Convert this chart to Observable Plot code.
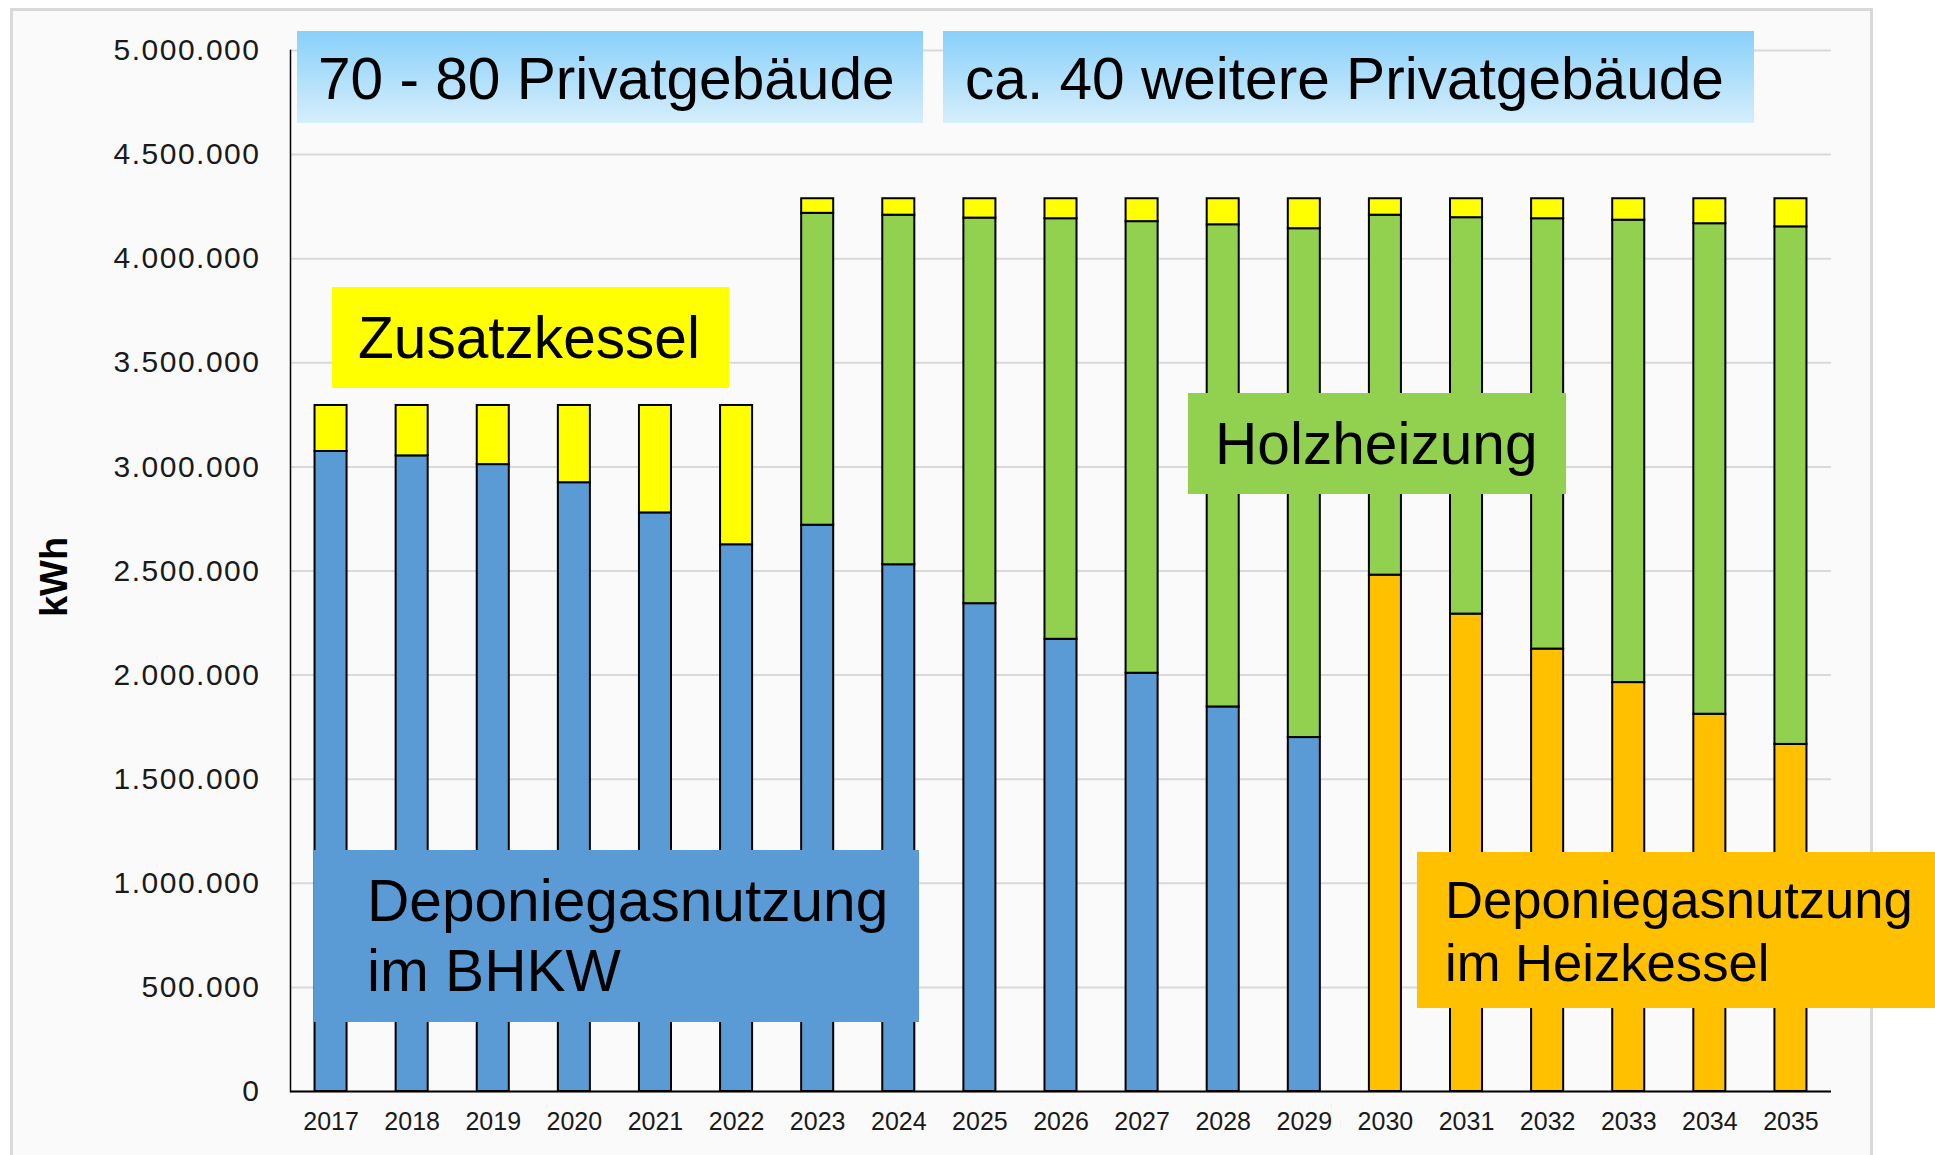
<!DOCTYPE html>
<html>
<head>
<meta charset="utf-8">
<script src="https://cdn.jsdelivr.net/npm/d3@7"></script>
<script src="https://cdn.jsdelivr.net/npm/@observablehq/plot@0.6"></script>
<style>
html, body { margin: 0; padding: 0; background: #fff; }
#wrap { position: relative; width: 1935px; height: 1155px; overflow: hidden; font-family: "Liberation Sans", Arial, sans-serif; }
#frame { position: absolute; left: 10px; top: 8px; width: 1863px; height: 1200px; border: 3px solid #d9d9d9; background: #fafafa; box-sizing: border-box; }
#chart { position: absolute; left: 0; top: 0; }
.box { position: absolute; box-sizing: border-box; color: #000; font-size: 58.6px; white-space: nowrap; overflow: visible; }
#chart g[aria-label="y-axis tick label"] text { letter-spacing: 1.5px; }
</style>
</head>
<body>
<div id="wrap">
  <div id="frame"></div>
  <div id="chart"></div>
  <div class="box" style="left:297px;top:31px;width:626px;height:92px;background:linear-gradient(#88d0fa,#d6eefc);padding-left:21px;padding-top:2px;line-height:92px;">70 - 80 Privatgebäude</div>
  <div class="box" style="left:943px;top:31px;width:811px;height:92px;background:linear-gradient(#88d0fa,#d6eefc);padding-left:22px;padding-top:2px;line-height:92px;">ca. 40 weitere Privatgebäude</div>
  <div class="box" style="left:332px;top:287px;width:397px;height:101px;background:#ffff00;padding-left:26px;line-height:101px;">Zusatzkessel</div>
  <div class="box" style="left:1188px;top:393px;width:378px;height:101px;background:#92d050;padding-left:27px;line-height:101px;">Holzheizung</div>
  <div class="box" style="left:314px;top:850px;width:605px;height:172px;background:#5b9bd5;padding-left:53px;padding-top:16px;line-height:70px;">Deponiegasnutzung<br>im BHKW</div>
  <div class="box" style="left:1417px;top:852px;width:518px;height:156px;background:#ffc000;padding-left:28px;padding-top:16px;line-height:63px;font-size:52.6px;">Deponiegasnutzung<br>im Heizkessel</div>
</div>
<script>
const years = ["2017","2018","2019","2020","2021","2022","2023","2024","2025","2026","2027","2028","2029","2030","2031","2032","2033","2034","2035"];
const bhkw = [3074000, 3053000, 3011000, 2924000, 2779000, 2626000, 2720000, 2530000, 2343000, 2172000, 2009000, 1847000, 1700000, 0, 0, 0, 0, 0, 0];
const heizkessel = [0, 0, 0, 0, 0, 0, 0, 0, 0, 0, 0, 0, 0, 2480000, 2293000, 2125000, 1964000, 1812000, 1667000];
const holz = [0, 0, 0, 0, 0, 0, 1498000, 1679000, 1852000, 2020000, 2169000, 2316000, 2444000, 1729000, 1904000, 2067000, 2221000, 2356000, 2486000];
const zusatz = [221000, 242000, 284000, 371000, 516000, 669000, 70000, 79000, 93000, 96000, 110000, 125000, 144000, 79000, 91000, 96000, 103000, 120000, 135000];
const yTicks = [0, 500000, 1000000, 1500000, 2000000, 2500000, 3000000, 3500000, 4000000, 4500000, 5000000];
const seriesNames = ["Deponiegasnutzung im BHKW", "Deponiegasnutzung im Heizkessel", "Holzheizung", "Zusatzkessel"];
const seriesColors = ["#5b9bd5", "#ffc000", "#92d050", "#ffff00"];
const yLabel = "kWh";

const seriesValues = [bhkw, heizkessel, holz, zusatz];
const rows = [];
years.forEach((yr, i) => {
  seriesValues.forEach((arr, k) => {
    if (arr[i] > 0) rows.push({year: yr, series: seriesNames[k], value: arr[i]});
  });
});

const fmt = d3.formatLocale({decimal: ",", thousands: ".", grouping: [3], currency: ["", "€"]}).format(",d");

const chart = Plot.plot({
  width: 1935,
  height: 1155,
  marginLeft: 290,
  marginRight: 104,
  marginTop: 50,
  marginBottom: 64,
  style: {background: "transparent", fontFamily: "'Liberation Sans', Arial, sans-serif", color: "#1a1a1a", overflow: "visible"},
  x: {domain: years, paddingInner: 0.605, paddingOuter: 0.3025, round: false, label: null},
  y: {domain: [0, 5000000], label: null},
  color: {domain: seriesNames, range: seriesColors},
  marks: [
    Plot.gridY(yTicks, {stroke: "#d9d9d9", strokeOpacity: 1, strokeWidth: 2}),
    Plot.barY(rows, {x: "year", y: "value", fill: "series", stroke: "#000", strokeWidth: 2, order: seriesNames}),
    Plot.ruleY([0], {stroke: "#000", strokeWidth: 2}),
    Plot.frame({anchor: "left", stroke: "#000", strokeWidth: 1.5}),
    Plot.axisY(yTicks, {tickSize: 0, tickPadding: 30, tickFormat: fmt, fontSize: 30, label: null}),
    Plot.axisX({tickSize: 0, tickPadding: 21, fontSize: 25, label: null}),
    Plot.text([yLabel], {frameAnchor: "left", textAnchor: "middle", lineAnchor: "middle", dx: -236, dy: 6, rotate: -90, fontSize: 38, fontWeight: "bold", fill: "#000"})
  ]
});
document.getElementById("chart").appendChild(chart);
</script>
</body>
</html>
